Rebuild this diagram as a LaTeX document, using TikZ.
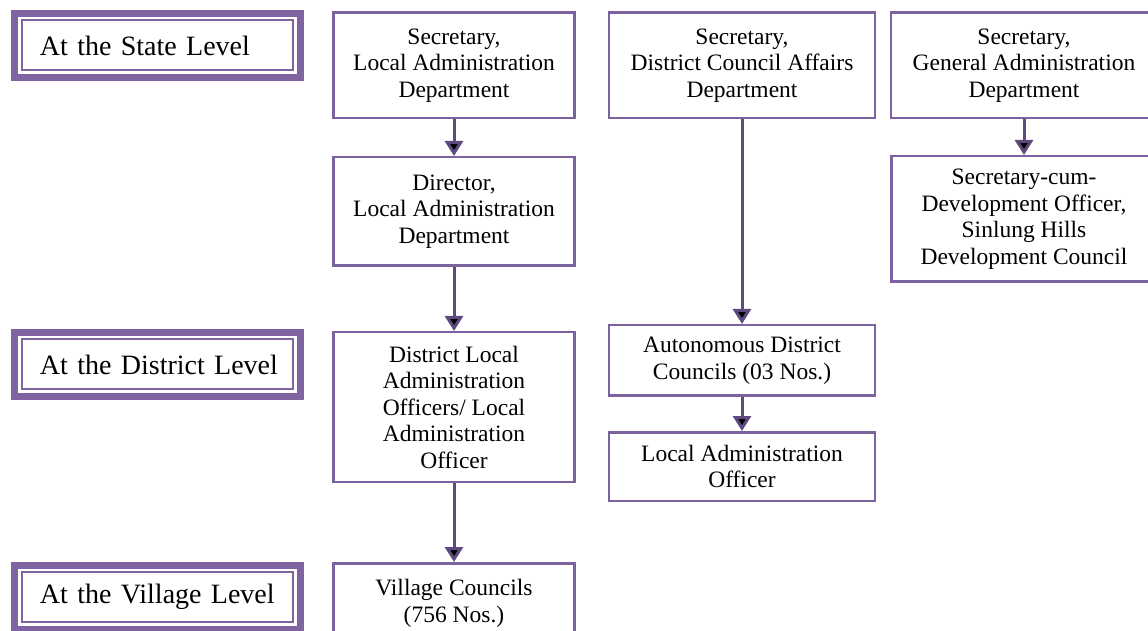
\documentclass[tikz,border=0pt]{standalone}
\usepackage{fontspec}
\setmainfont{Liberation Serif}
\usetikzlibrary{arrows.meta,positioning}

\definecolor{lvlpurple}{HTML}{8064A2}
\definecolor{boxpurple}{HTML}{7D62A0}
\definecolor{arrpurple}{HTML}{5F4A80}

\tikzset{
  levelbox/.style={draw=lvlpurple, line width=3.5pt, minimum width=143pt, minimum height=32pt,
    text width=143pt, inner xsep=0pt, align=left,
    font=\fontsize{14}{17}\selectfont,
    execute at begin node={\hspace*{12.75pt}},
    path picture={\draw[lvlpurple, line width=1pt]
      ([shift={(3.75pt,-3.5pt)}]path picture bounding box.north west) rectangle
      ([shift={(-3.75pt,3.5pt)}]path picture bounding box.south east);}},
  orgbox/.style={draw=boxpurple, line width=1.25pt, fill=white, align=center,
    font=\fontsize{11.75}{13.25}\selectfont},
  arr/.style={draw=arrpurple, line width=1.5pt, -{Triangle[width=9pt,length=7.5pt]}}
}

\begin{document}
\begin{tikzpicture}[x=0.5pt, y=-0.5pt]
   \useasboundingbox (0,0) rectangle (1148,631);

   % levels
   \node[levelbox] (lvl_state)    at (157.5,45.5) {At the State Level};
   \node[levelbox] (lvl_district) at (157.5,364.5) {At the District Level};
   \node[levelbox] (lvl_village)  at (157.5,597) {At the Village Level};

   % local administration
   \node[orgbox, minimum width=120.5pt, minimum height=52.75pt] (sec_lad) at (454,65.5)
        {Secretary,\\Local Administration\\Department};
   \node[orgbox, minimum width=120.5pt, minimum height=54.25pt] (dir_lad) [below=18.25pt of sec_lad]
        {Director,\\Local Administration\\Department};
   \node[orgbox, minimum width=120.5pt, minimum height=74.75pt] (dlao) [below=32pt of dir_lad]
        {District Local\\Administration\\Officers/ Local\\Administration\\Officer};
   \node[orgbox, minimum width=120.5pt, minimum height=40pt] (vc) [below=39.5pt of dlao]
        {Village Councils\\(756 Nos.)};

   % district councils
   \node[orgbox, minimum width=133pt, minimum height=52.75pt] (sec_dca) at (742,65.5)
        {Secretary,\\District Council Affairs\\Department};
   \node[orgbox, minimum width=133pt, minimum height=35.25pt] (adc) [below=102.25pt of sec_dca]
        {Autonomous District\\Councils (03 Nos.)};
   \node[orgbox, minimum width=133pt, minimum height=34.25pt] (lao) [below=17pt of adc]
        {Local Administration\\Officer};

   % general administration
   \node[orgbox, minimum width=133pt, minimum height=52.75pt] (sec_gad) at (1024,65.5)
        {Secretary,\\General Administration\\Department};
   \node[orgbox, minimum width=132.5pt, minimum height=62.75pt] (sec_do) [below=17.75pt of sec_gad]
        {Secretary-cum-\\Development Officer,\\Sinlung Hills\\Development Council};

    \path[arr]
    (sec_lad) edge (dir_lad)
    (dir_lad) edge (dlao)
    (dlao)    edge (vc)
    (sec_dca) edge (adc)
    (adc)     edge (lao)
    (sec_gad) edge (sec_do);

\end{tikzpicture}
\end{document}
